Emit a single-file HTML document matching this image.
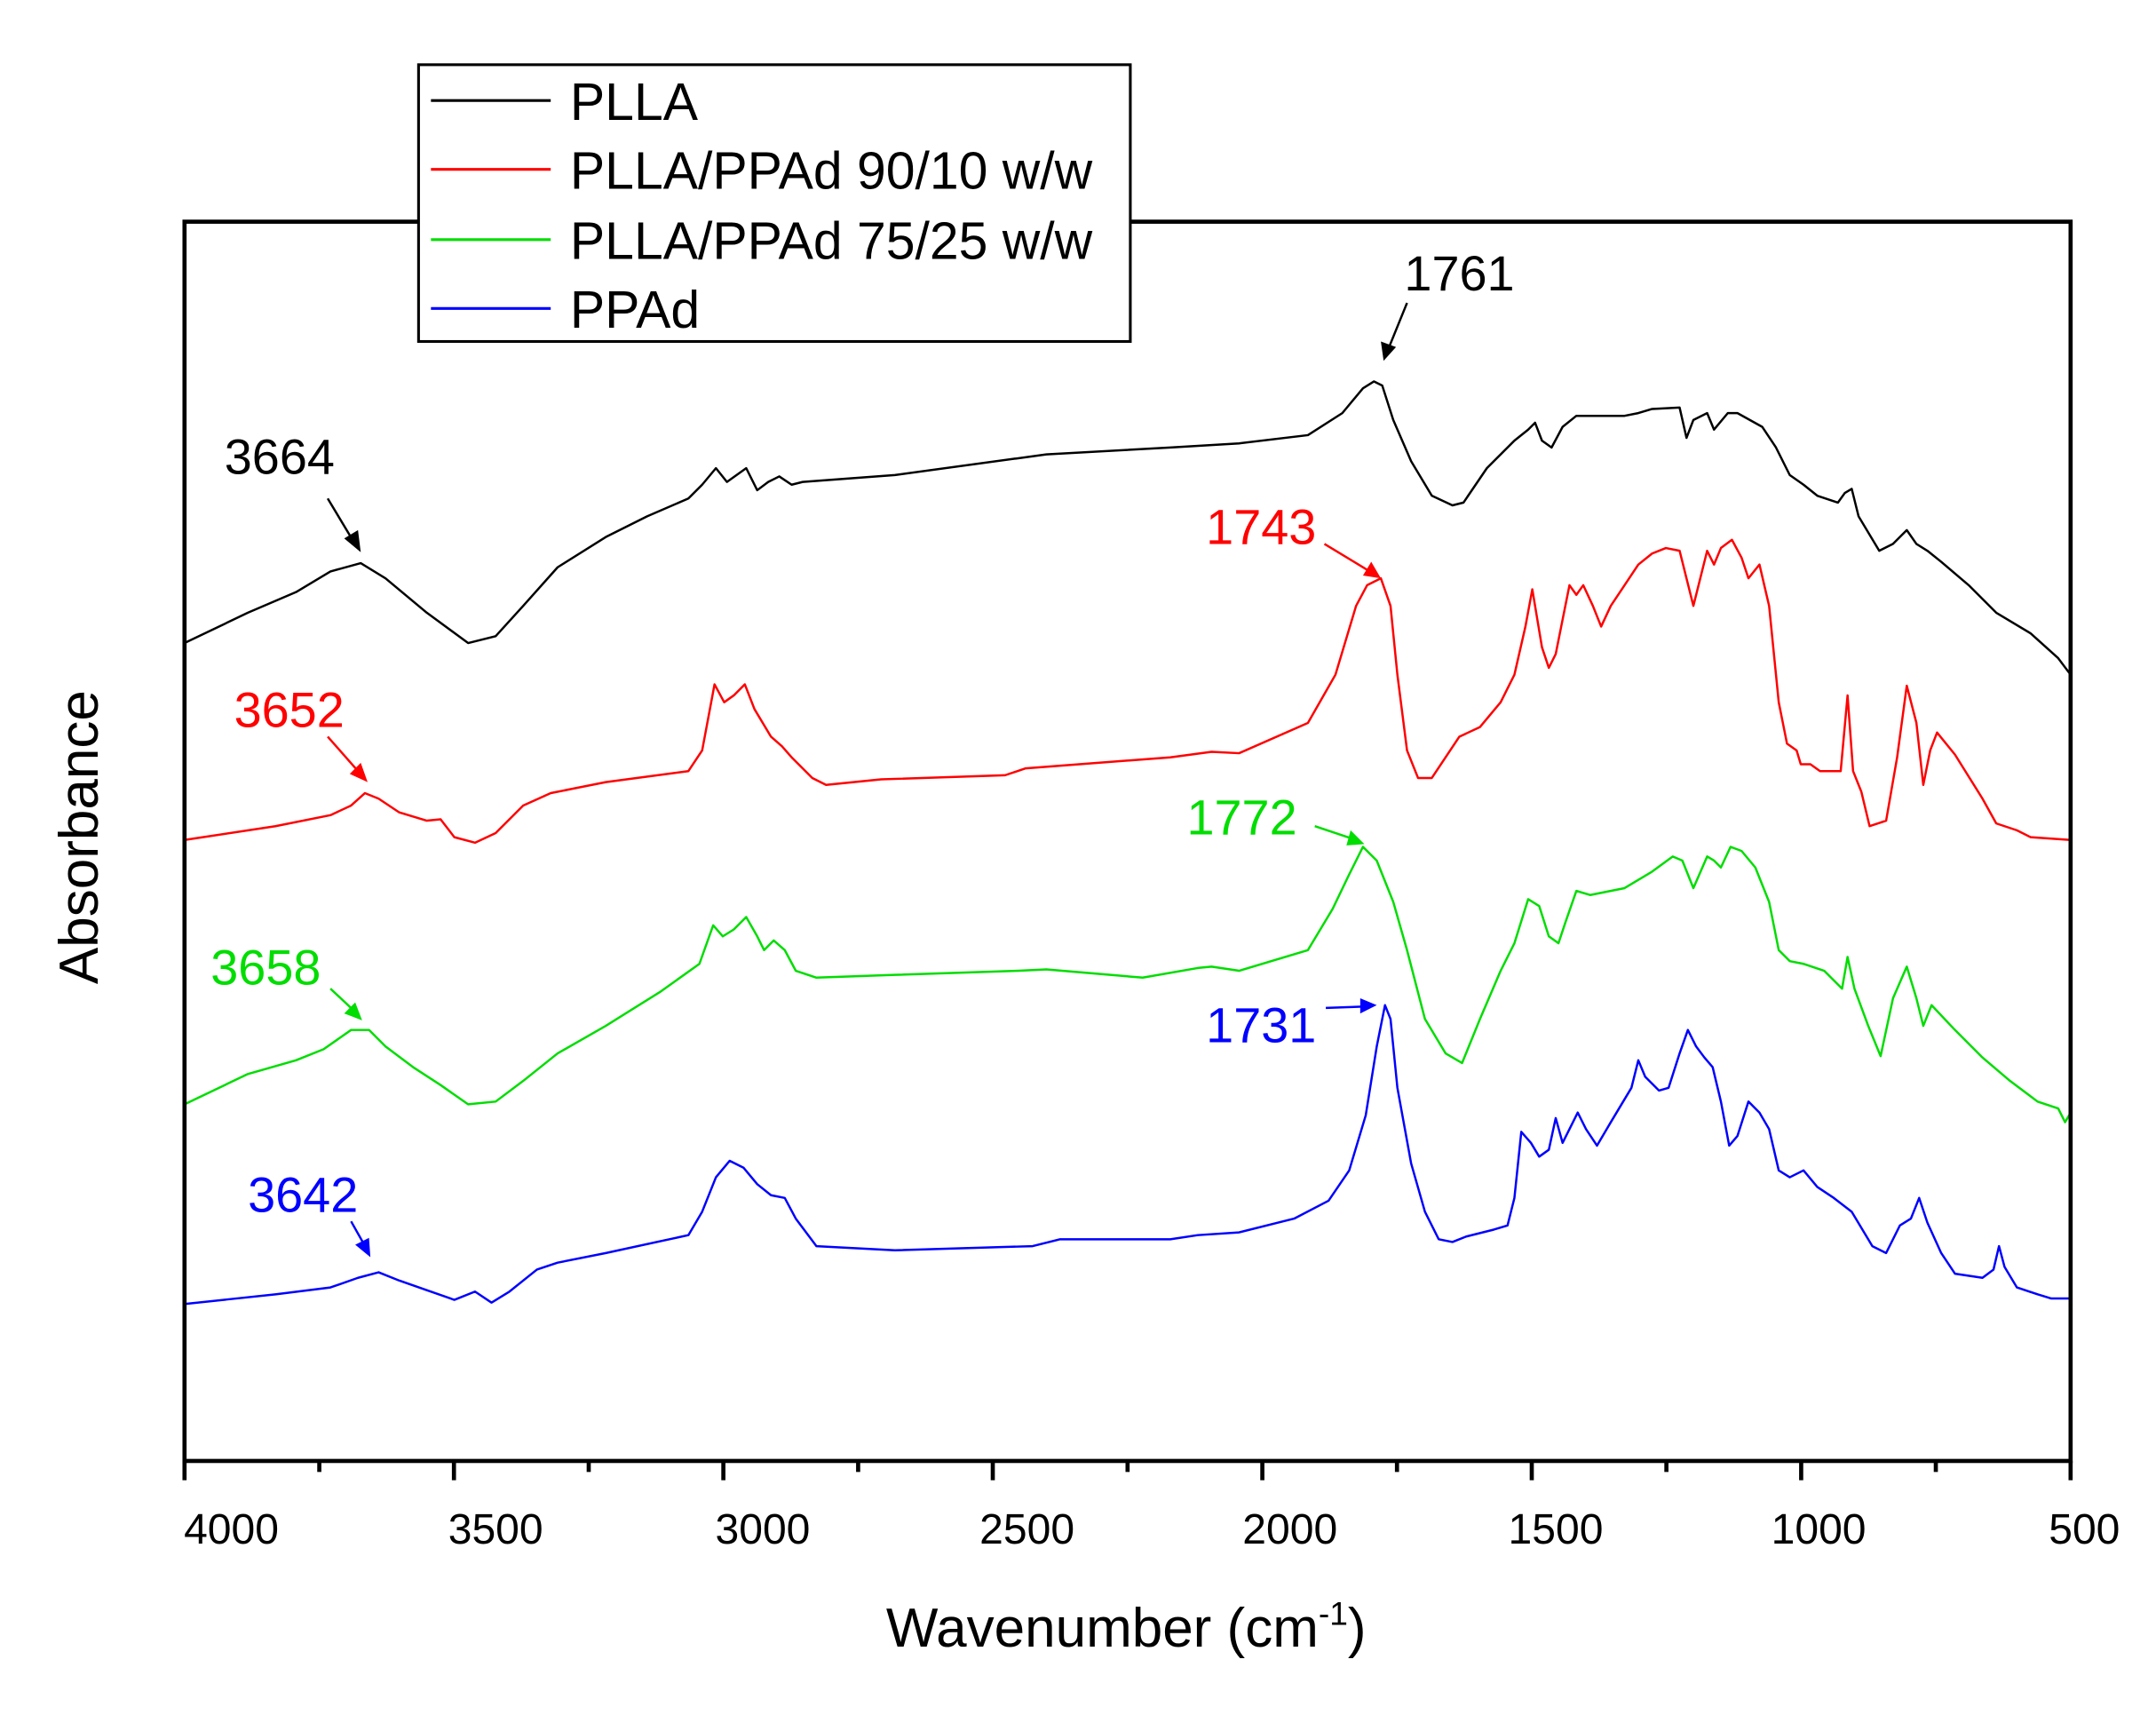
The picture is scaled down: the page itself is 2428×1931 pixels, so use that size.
<!DOCTYPE html>
<html><head><meta charset="utf-8"><style>html,body{margin:0;padding:0;background:#fff}svg{display:block}</style></head>
<body>
<svg width="2428" height="1931" viewBox="0 0 1566 1245.5" xmlns="http://www.w3.org/2000/svg" font-family="Liberation Sans, Arial, sans-serif">
<rect width="1566" height="1246" fill="#fff"/>
<g fill="none" stroke-width="1.6" stroke-linejoin="round">
<polyline stroke="#000" points="134,467 180,445 215,430 240,415 262,409 280,420 310,445 340,467 360,462 380,440 405,412 440,390 470,375 500,362 510,352 520,340 528,350 535,345 542,340 550,356 558,350 566,346 575,352 583,350 650,345 760,330 850,325 900,322 950,316 975,300 990,282 998,277 1004,280 1012,305 1025,335 1040,360 1055,367 1063,365 1080,340 1100,320 1110,312 1115,307 1120,320 1127,325 1135,310 1145,302 1180,302 1190,300 1200,297 1220,296 1225,318 1230,305 1240,300 1245,312 1255,300 1262,300 1280,310 1290,325 1300,345 1310,352 1320,360 1335,365 1340,358 1345,355 1350,375 1365,400 1375,395 1385,385 1392,395 1400,400 1410,408 1430,425 1450,445 1475,460 1495,478 1504,490"/>
<polyline stroke="#f00" points="134,610 200,600 240,592 255,585 265,576 275,580 290,590 310,596 320,595 330,608 345,612 360,605 380,585 400,576 440,568 500,560 510,545 519,497 526,510 533,505 541,497 548,515 560,535 568,542 575,550 590,565 600,570 640,566 730,563 745,558 850,550 880,546 900,547 950,525 970,490 985,440 993,425 1003,420 1010,440 1015,490 1022,545 1030,565 1040,565 1050,550 1060,535 1075,528 1090,510 1100,490 1108,455 1113,428 1120,470 1125,485 1130,475 1135,450 1140,425 1145,432 1150,425 1157,440 1163,455 1170,440 1180,425 1190,410 1200,402 1210,398 1220,400 1225,420 1230,440 1235,420 1240,400 1245,410 1250,398 1258,392 1265,405 1270,420 1278,410 1285,440 1292,510 1298,540 1305,545 1308,555 1315,555 1322,560 1330,560 1337,560 1342,505 1346,560 1352,575 1358,600 1370,596 1378,550 1385,498 1392,525 1397,570 1402,545 1407,532 1420,548 1440,580 1450,598 1465,603 1475,608 1504,610"/>
<polyline stroke="#0d0" points="134,802 180,780 215,770 235,762 255,748 268,748 280,760 300,775 320,788 340,802 360,800 380,785 405,765 440,745 480,720 508,700 518,672 525,680 533,675 542,666 550,680 555,690 562,683 570,690 578,705 593,710 650,708 740,705 760,704 830,710 870,703 880,702 900,705 950,690 968,660 980,635 990,615 1000,625 1012,655 1022,690 1035,740 1050,765 1062,772 1075,740 1090,705 1100,685 1110,653 1118,658 1125,680 1132,685 1137,670 1145,647 1155,650 1180,645 1200,633 1215,622 1222,625 1230,645 1240,622 1245,625 1250,630 1257,615 1265,618 1275,630 1285,655 1292,690 1300,698 1310,700 1325,705 1338,718 1342,695 1347,718 1357,745 1366,767 1375,725 1385,702 1392,725 1397,745 1403,730 1420,748 1440,768 1460,785 1480,800 1495,805 1500,815 1504,808"/>
<polyline stroke="#00f" points="134,947 200,940 240,935 260,928 275,924 290,930 310,937 330,944 345,938 357,946 370,938 390,922 405,917 440,910 500,897 510,880 520,855 530,843 540,848 550,860 560,868 570,870 578,885 593,905 650,908 750,905 770,900 850,900 870,897 900,895 940,885 965,872 980,850 992,810 1000,760 1006,730 1010,740 1015,790 1025,845 1035,880 1045,900 1055,902 1065,898 1085,893 1095,890 1100,870 1105,822 1112,830 1118,840 1125,835 1130,812 1135,830 1140,820 1146,808 1152,820 1160,832 1170,815 1185,790 1190,770 1195,782 1205,792 1212,790 1220,765 1226,748 1232,760 1238,768 1244,775 1250,800 1256,832 1262,825 1270,800 1278,808 1285,820 1292,850 1300,855 1310,850 1320,862 1332,870 1345,880 1360,905 1370,910 1380,890 1388,885 1394,870 1400,888 1410,910 1420,925 1440,928 1448,922 1452,905 1456,920 1465,935 1480,940 1490,943 1504,943"/>
</g>
<rect x="134" y="161" width="1370" height="900" fill="none" stroke="#000" stroke-width="3"/>
<g stroke="#000" stroke-width="3">
<line x1="134" y1="1061" x2="134" y2="1075"/><line x1="329.7" y1="1061" x2="329.7" y2="1075"/><line x1="525.4" y1="1061" x2="525.4" y2="1075"/><line x1="721.1" y1="1061" x2="721.1" y2="1075"/><line x1="916.9" y1="1061" x2="916.9" y2="1075"/><line x1="1112.6" y1="1061" x2="1112.6" y2="1075"/><line x1="1308.3" y1="1061" x2="1308.3" y2="1075"/><line x1="1504" y1="1061" x2="1504" y2="1075"/>
<line x1="231.9" y1="1061" x2="231.9" y2="1069"/><line x1="427.6" y1="1061" x2="427.6" y2="1069"/><line x1="623.3" y1="1061" x2="623.3" y2="1069"/><line x1="819" y1="1061" x2="819" y2="1069"/><line x1="1014.7" y1="1061" x2="1014.7" y2="1069"/><line x1="1210.4" y1="1061" x2="1210.4" y2="1069"/><line x1="1406.1" y1="1061" x2="1406.1" y2="1069"/>
</g>
<g font-size="31" text-anchor="middle" fill="#000">
<text x="168" y="1121">4000</text><text x="360" y="1121">3500</text><text x="554" y="1121">3000</text><text x="746" y="1121">2500</text><text x="937" y="1121">2000</text><text x="1130" y="1121">1500</text><text x="1321" y="1121">1000</text><text x="1514" y="1121">500</text>
</g>
<text x="818" y="1196" font-size="40" text-anchor="middle">Wavenumber (cm<tspan font-size="24" dy="-16">-1</tspan><tspan dy="16">)</tspan></text>
<text transform="translate(71,608) rotate(-90)" font-size="40" text-anchor="middle">Absorbance</text>
<rect x="304" y="47" width="517" height="201" fill="#fff" stroke="#000" stroke-width="2"/>
<g stroke-width="2"><line x1="313" y1="73" x2="400" y2="73" stroke="#000"/><line x1="313" y1="123" x2="400" y2="123" stroke="#f00"/><line x1="313" y1="174" x2="400" y2="174" stroke="#0d0"/><line x1="313" y1="224" x2="400" y2="224" stroke="#00f"/></g>
<g font-size="38"><text x="414" y="87">PLLA</text><text x="414" y="137">PLLA/PPAd 90/10 w/w</text><text x="414" y="188">PLLA/PPAd 75/25 w/w</text><text x="414" y="238">PPAd</text></g>
<g font-size="36">
<text x="163" y="344" fill="#000">3664</text><text x="1020" y="211" fill="#000">1761</text>
<text x="876" y="395" fill="#f00">1743</text><text x="170" y="528" fill="#f00">3652</text>
<text x="862" y="606" fill="#0d0">1772</text><text x="153" y="715" fill="#0d0">3658</text>
<text x="876" y="757" fill="#00f">1731</text><text x="180" y="880" fill="#00f">3642</text>
</g>
<g stroke-width="1.6">
<line x1="238" y1="362" x2="256" y2="392" stroke="#000"/><path d="M262,401 L250,391 L260,385 z" fill="#000"/>
<line x1="1022" y1="220" x2="1009" y2="252" stroke="#000"/><path d="M1005,262 L1003,248 L1014,252 z" fill="#000"/>
<line x1="962" y1="395" x2="995" y2="415" stroke="#f00"/><path d="M1003,420 L990,418 L996,408 z" fill="#f00"/>
<line x1="238" y1="535" x2="260" y2="560" stroke="#f00"/><path d="M267,568 L254,562 L262,554 z" fill="#f00"/>
<line x1="955" y1="600" x2="982" y2="609" stroke="#0d0"/><path d="M991,613 L978,614 L981,603 z" fill="#0d0"/>
<line x1="240" y1="718" x2="256" y2="733" stroke="#0d0"/><path d="M263,741 L250,736 L258,728 z" fill="#0d0"/>
<line x1="963" y1="732" x2="990" y2="731" stroke="#00f"/><path d="M1000,730 L988,736 L988,725 z" fill="#00f"/>
<line x1="255" y1="887" x2="264" y2="903" stroke="#00f"/><path d="M269,913 L258,904 L268,899 z" fill="#00f"/>
</g>
</svg>
</body></html>
